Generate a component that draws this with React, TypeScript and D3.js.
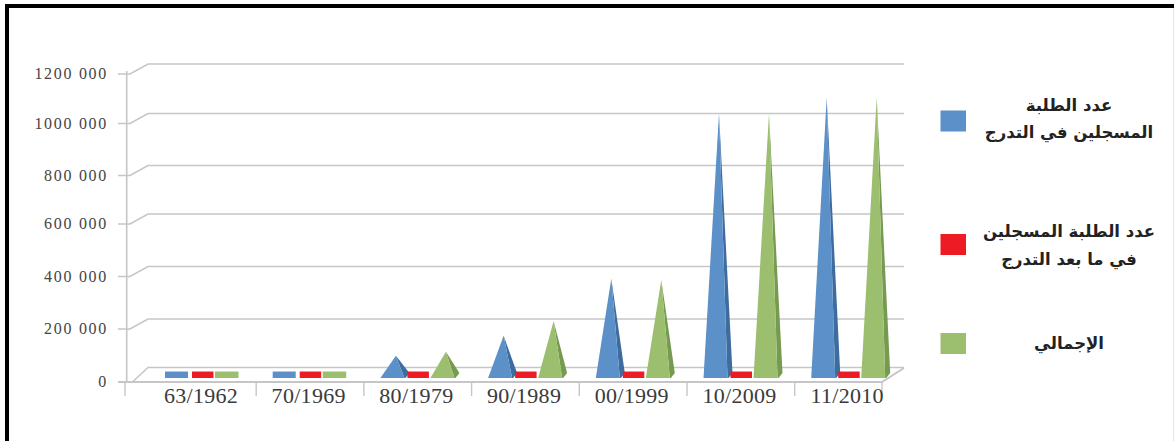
import React from "react";
import * as d3 from "d3";

const W = 1174, H = 441;
const categories = ["63/1962", "70/1969", "80/1979", "90/1989", "00/1999", "10/2009", "11/2010"];
const blueValues = [38000, 38000, 79000, 155000, 373000, 1020000, 1085000];
const redValues = [38000, 38000, 38000, 38000, 38000, 38000, 38000];
const greenValues = [38000, 38000, 94000, 211000, 369000, 1020000, 1085000];
const yTicks = [0, 200000, 400000, 600000, 800000, 1000000, 1200000];
const yTickLabels = ["0", "200 000", "400 000", "600 000", "800 000", "1000 000", "1200 000"];
const legendLabels = [
  ["عدد الطلبة", "المسجلين في التدرج"],
  ["عدد الطلبة المسجلين", "في ما بعد التدرج"],
  ["الإجمالي"],
];
const colors = ["#5b90c9", "#ed1c24", "#9bbf6e"];
const darkColors = ["#3f6c9e", "#c4141b", "#769a50"];
const seriesList = [blueValues, redValues, greenValues];

const yPos = d3.scaleLinear<number>()
  .domain(yTicks)
  .range([381.5, 329, 276.5, 224, 175.5, 123.5, 74]);
const x = d3.scaleBand<string>().domain(categories).range([148.5, 148.5 + 7 * 107.7]);

export default function App() {
  const grey = "#c6c6c6";
  const seriesOffset = [16.5, 43.5, 66.5];
  const rectW = [23, 21.5, 23.5];
  const legendY = [121, 244.5, 343.5];
  const legendTextY = [[111, 138], [237, 265], [349]];
  const tickXs = d3.range(categories.length + 1).map((i) =>
    i === 0 ? 125 : i === categories.length ? 882 : 148.5 + i * x.step()
  );
  return (
    <svg width={W} height={H} style={{ position: "absolute", left: 0, top: 0, background: "#fff" }}>
      <path d={`M7,${H} V6 H${W}`} fill="none" stroke="#000" strokeWidth={4} />
      <line x1={1173.5} x2={1173.5} y1={8} y2={H} stroke="#e4e4e4" strokeWidth={1} />
      {yTicks.map((t, i) => {
        const py = yPos(t);
        return (
          <g key={t}>
            <path
              d={i === 0
                ? `M133,${py} L148,${py - 14} H904`
                : `M118,${py} H130 L148,${py - 10} H904`}
              fill="none" stroke={grey} strokeWidth={1.6}
            />
            <text x={108} y={py + 5} textAnchor="end" fontFamily="'Liberation Serif', serif" fontSize={16} fill="#444" letterSpacing={1.7}>
              {yTickLabels[i]}
            </text>
          </g>
        );
      })}
      <line x1={126.7} x2={126.7} y1={71} y2={381} stroke={grey} strokeWidth={1.6} />
      <path d={`M118,382 H882 L904,368`} fill="none" stroke={grey} strokeWidth={2} />
      {tickXs.map((px, i) => (
        <line key={i} x1={px} x2={px} y1={381} y2={396} stroke={grey} strokeWidth={1.4} />
      ))}
      {categories.map((c, i) => {
        const groupX = x(c)!;
        return (
          <g key={c}>
            {seriesList.map((s, k) => {
              const left = groupX + seriesOffset[k];
              const base = 378;
              const v = s[i];
              const flat = v < 50000;
              if (flat) {
                return <rect key={k} x={left} y={yPos(v)} width={rectW[k]} height={base - yPos(v)} fill={colors[k]} />;
              }
              const top = yPos(v) - 5;
              const apexX = left + 15.5;
              const front = left + 24;
              return (
                <g key={k}>
                  <path d={`M${front},${base} L${apexX},${top} L${front + 5},${base - 5} L${front + 1},${base} Z`} fill={darkColors[k]} />
                  <path d={`M${left},${base} L${apexX},${top} L${front},${base} Z`} fill={colors[k]} />
                </g>
              );
            })}
            <text x={groupX + 52.5} y={403} textAnchor="middle" fontFamily="'Liberation Serif', serif" fontSize={22} letterSpacing={0.3} fill="#3a3a3a">{c}</text>
          </g>
        );
      })}
      {legendLabels.map((lines, i) => (
        <g key={i}>
          <rect x={940.5} y={legendY[i] - 10.5} width={25.5} height={21} fill={colors[i]} />
          {lines.map((l, j) => (
            <text key={j} x={1069} y={legendTextY[i][j]} direction="rtl" textAnchor="middle" fontFamily="'DejaVu Sans', 'Noto Sans', sans-serif" fontWeight="bold" fontSize={16.5} fill="#222">
              {l}
            </text>
          ))}
        </g>
      ))}
    </svg>
  );
}
